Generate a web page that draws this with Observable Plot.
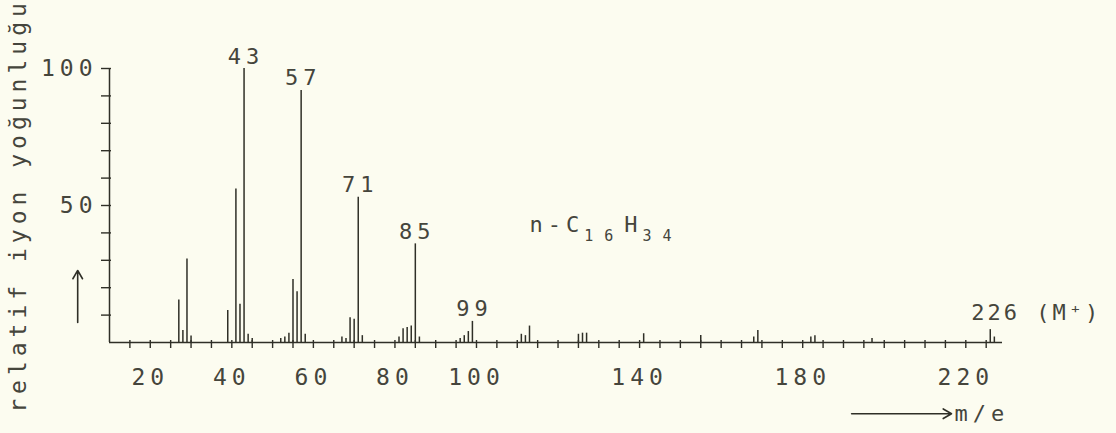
<!DOCTYPE html>
<html><head><meta charset="utf-8">
<script src="https://cdn.jsdelivr.net/npm/d3@7"></script>
<script src="https://cdn.jsdelivr.net/npm/@observablehq/plot@0.6"></script>
<style>
html,body{margin:0;padding:0;background:#fcfcf0;}
svg{display:block;}
svg text{letter-spacing:5px;}
</style></head><body><div id="chart"></div>
<script>
// ---- data ----
const mz        = [27, 28, 29, 30, 39, 41, 42, 43, 44, 45, 52, 53, 54, 55, 56, 57, 58, 67, 68, 69, 70, 71, 72, 81, 82, 83, 84, 85, 86, 96, 97, 98, 99, 111, 112, 113, 125, 126, 127, 141, 155, 168, 169, 182, 183, 197, 226, 227];
const intensity = [15.5, 4.4, 30.5, 2.4, 11.7, 56, 14, 100, 3, 1.5, 1.5, 2, 3.4, 23, 18.5, 92, 3, 2, 1.5, 9, 8.5, 53, 2.5, 2, 5, 5.5, 6, 36, 2, 1.5, 2.5, 4, 7.7, 3, 2.5, 6, 3, 3.4, 3.4, 3.2, 2.6, 2, 4.4, 2, 2.5, 1.5, 4.7, 2];
const peakLabelMz = [43, 57, 71, 85, 99];
const peakLabelText = ["43", "57", "71", "85", "99"];
const molIonMz = [226];
const molIonText = ["226 (M⁺)"];
const xDomain = [10, 229];
const yDomain = [0, 100];
const xTickLabels = [20, 40, 60, 80, 100, 140, 180, 220];
const xMinorTicks = d3.range(15, 230, 5);
const yMinorTicks = d3.range(10, 101, 10);
const yTickLabels = [50, 100];
const yTitle = "relatif iyon yoğunluğu";
const xTitle = "m/e";
const formula = "n-C16H34";
// annotation anchors (data units)
const formulaPos = [{x: 113, y: 43}];
const xArrow = [{x1: 192, x2: 216.5, y: -26}];
const yArrow = [{x: 2.2, y1: 7.3, y2: 26.3}];

const peaks = mz.map((m, i) => ({mz: m, I: intensity[i]}));
const Iof = m => peaks.find(p => p.mz === m).I;
const labels = peakLabelMz.map((m, i) => ({mz: m, I: Iof(m), t: peakLabelText[i]}));
const molLabels = molIonMz.map((m, i) => ({mz: m, I: Iof(m), t: molIonText[i]}));

const ink = "#2f2f27";
const txt = "#45453c";

const svg = Plot.plot({
  width: 1116,
  height: 433,
  marginLeft: 109,
  marginRight: 114,
  marginTop: 68,
  marginBottom: 91,
  x: {domain: xDomain},
  y: {domain: yDomain},
  style: {background: "#fcfcf0", color: txt, fontFamily: "'DejaVu Sans Mono', monospace", overflow: "visible"},
  marks: [
    Plot.ruleY([0], {stroke: ink, strokeWidth: 1.5}),
    Plot.ruleX([xDomain[0]], {y1: yDomain[0], y2: yDomain[1], stroke: ink, strokeWidth: 1.5}),
    Plot.axisY({ticks: yMinorTicks, tickSize: 10, dx: 2, tickFormat: () => "", label: null, stroke: ink, strokeWidth: 1.4}),
    Plot.axisY({ticks: yTickLabels, tickSize: 0, tickPadding: 12, fontSize: 23, label: null, fill: txt}),
    Plot.axisX({ticks: xMinorTicks, tickSize: 8, dy: -2, tickFormat: () => "", label: null, stroke: ink, strokeWidth: 1.4}),
    Plot.axisX({ticks: xTickLabels, tickSize: 0, tickPadding: 26, fontSize: 23, label: null, fill: txt}),
    Plot.ruleX(peaks, {x: "mz", y1: 0, y2: "I", stroke: ink, strokeWidth: 1.5}),
    Plot.text(labels, {x: "mz", y: "I", text: "t", lineAnchor: "bottom", dy: -5, dx: 2, fontSize: 22, fill: txt}),
    Plot.text(molLabels, {x: "mz", y: "I", text: "t", textAnchor: "start", lineAnchor: "bottom", dy: -10, dx: -19, fontSize: 22, fill: txt, ariaLabel: "molion"}),
    Plot.text(formulaPos, {x: "x", y: "y", text: () => formula, textAnchor: "start", fontSize: 22, fill: txt}),
    Plot.text([yTitle], {frameAnchor: "left", textAnchor: "middle", rotate: -90, dx: -91, fontSize: 23, fill: txt}),
    Plot.arrow(yArrow, {x1: "x", x2: "x", y1: "y1", y2: "y2", stroke: ink, strokeWidth: 1.6, headLength: 9}),
    Plot.arrow(xArrow, {x1: "x1", x2: "x2", y1: "y", y2: "y", stroke: ink, strokeWidth: 1.6, headLength: 9}),
    Plot.text(xArrow, {x: "x2", y: "y", text: () => xTitle, textAnchor: "start", dx: 3, fontSize: 22, fill: txt})
  ]
});

// tighter spacing for the molecular-ion label
d3.select(svg).selectAll("text").filter(function () { return molIonText.includes(this.textContent); })
  .style("letter-spacing", "3px");

// subscripts in the formula
d3.select(svg).selectAll("text").filter(function () { return this.textContent === formula; }).each(function () {
  const ft = d3.select(this);
  ft.text(null);
  const parts = [["n-C", false], ["16", true], ["H", false], ["34", true]];
  let shifted = false;
  for (const [s, sub] of parts) {
    const ts = ft.append("tspan").text(s);
    if (sub) { ts.attr("font-size", 15).attr("dy", 9).style("letter-spacing", "11px"); shifted = true; }
    else if (shifted) { ts.attr("dy", -9); shifted = false; }
  }
});
document.getElementById("chart").appendChild(svg);
</script></body></html>
